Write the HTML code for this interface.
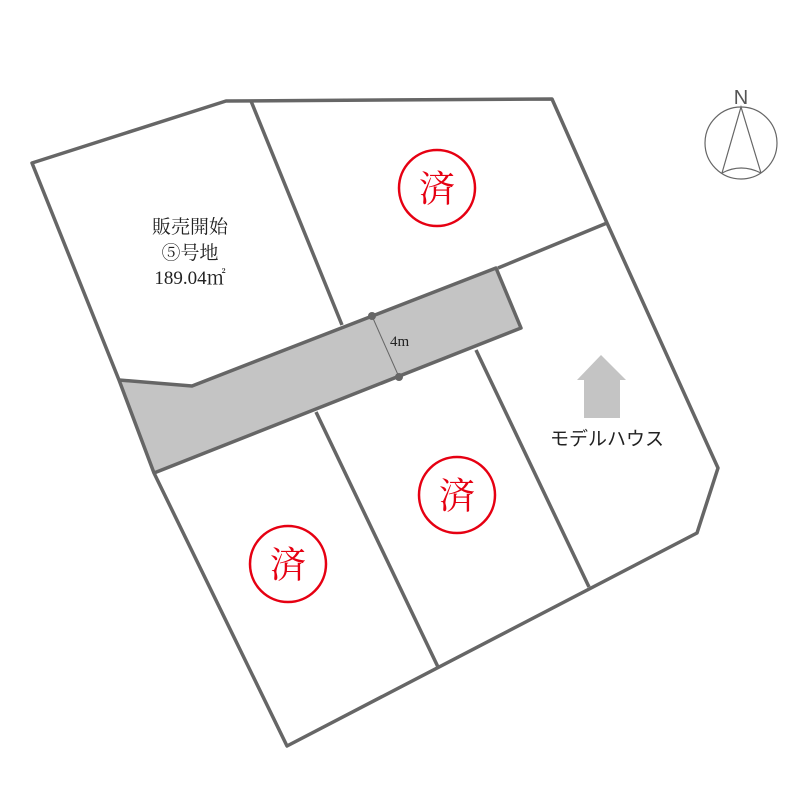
<!DOCTYPE html>
<html><head><meta charset="utf-8"><style>body{margin:0;background:#fff}svg{display:block}</style></head><body>
<svg width="800" height="800" viewBox="0 0 800 800" xmlns="http://www.w3.org/2000/svg">
<rect width="800" height="800" fill="#fff"/>
<polygon points="119,380 192,386 496,268 521,328 154,473" fill="#c4c4c4"/>
<g fill="none" stroke="#666" stroke-width="3.5" stroke-linejoin="round">
<polygon points="32,163 226,101 552,99 607,223 718,468 697,533 287,746 154,473 119,380"/>
<polyline points="119,380 192,386 496,268 521,328 154,473"/>
<line x1="251" y1="101" x2="342" y2="325"/>
<line x1="498" y1="268" x2="607" y2="223"/>
<line x1="316" y1="412" x2="438" y2="667"/>
<line x1="476" y1="350" x2="589" y2="587"/>
</g>
<line x1="372" y1="316" x2="399" y2="377" stroke="#666" stroke-width="1"/>
<circle cx="372" cy="316" r="4" fill="#666"/>
<circle cx="399" cy="377" r="4" fill="#666"/>
<text x="390" y="346" font-family="Liberation Serif, serif" font-size="15" fill="#222">4m</text>
<g font-family="Liberation Serif, 'Noto Serif CJK SC', serif" font-size="19" fill="#222" text-anchor="middle">
<text x="190" y="233">販売開始</text>
<text x="190" y="259">⑤号地</text>
<text x="190" y="284">189.04㎡</text>
</g>
<g fill="none" stroke="#e60012" stroke-width="2.5">
<circle cx="437" cy="188" r="38"/><circle cx="457" cy="495" r="38"/><circle cx="288" cy="564" r="38"/>
</g>
<g font-family="'Noto Serif CJK SC', serif" font-size="36" fill="#e60012" text-anchor="middle">
<text x="437" y="201">済</text><text x="457" y="508">済</text><text x="288" y="577">済</text>
</g>
<polygon points="601,355 626,380 620,380 620,418 584,418 584,380 577,380" fill="#c4c4c4"/>
<text x="607" y="445" font-family="'Noto Sans CJK JP', sans-serif" font-size="19" fill="#222" text-anchor="middle">モデルハウス</text>
<g fill="none" stroke="#666" stroke-width="1.2">
<circle cx="741" cy="143" r="36"/>
<polyline points="722,173 741,107 761,173"/>
<path d="M722,173 Q741,163 761,173"/>
</g>
<text x="741" y="104" font-family="Liberation Sans, sans-serif" font-size="20" fill="#555" text-anchor="middle">N</text>
</svg>
</body></html>
